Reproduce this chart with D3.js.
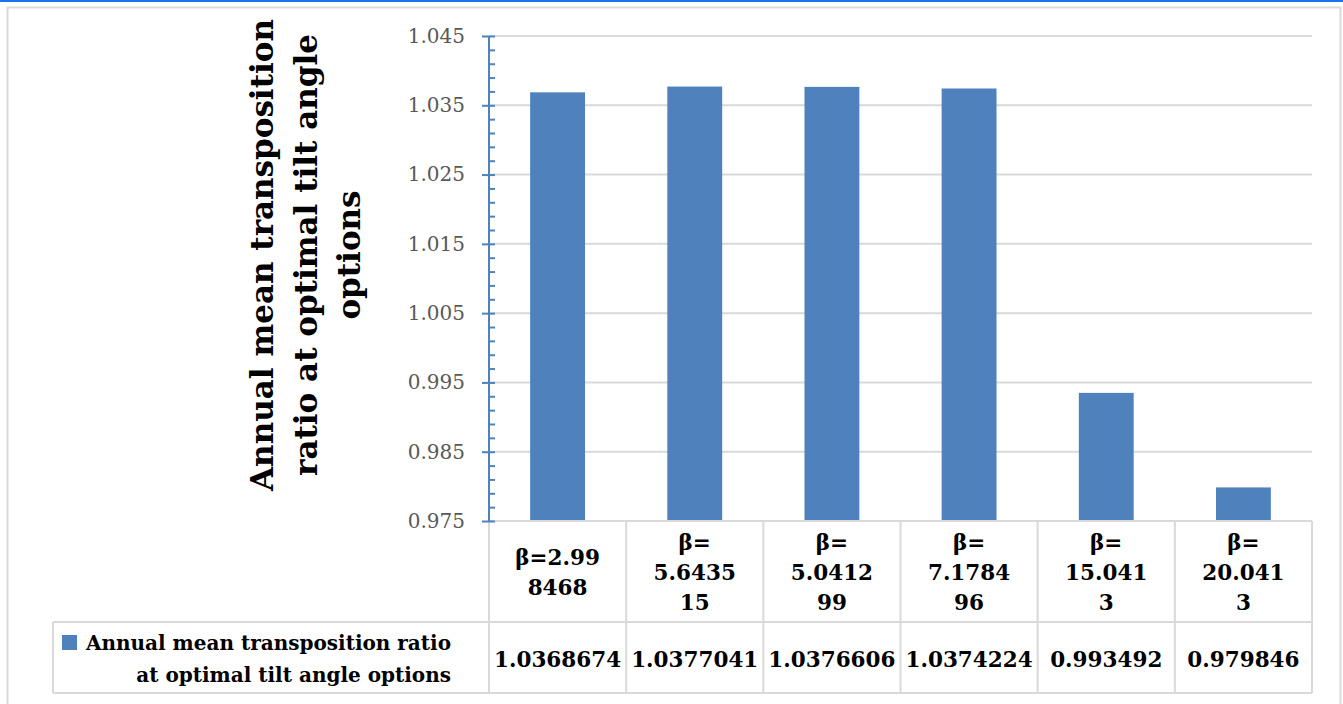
<!DOCTYPE html>
<html>
<head>
<meta charset="utf-8">
<script src="https://cdn.jsdelivr.net/npm/d3@7"></script>
<style>
  html, body { margin: 0; padding: 0; background: #fff; }
  svg { display: block; }
</style>
</head>
<body>
<svg id="chart" width="1343" height="704"></svg>
<script>
// Tilt-angle options (category labels) and the annual mean transposition ratio for each
const categories = ["β=2.998468", "β= 5.643515", "β= 5.041299", "β= 7.178496", "β= 15.0413", "β= 20.0413"];
const ratios = [1.0368674, 1.0377041, 1.0376606, 1.0374224, 0.993492, 0.979846];
const ratioLabels = ["1.0368674", "1.0377041", "1.0376606", "1.0374224", "0.993492", "0.979846"];
const yTickValues = [0.975, 0.985, 0.995, 1.005, 1.015, 1.025, 1.035, 1.045];
const seriesName = "Annual mean transposition ratio at optimal tilt angle options";
const yTitleLines = ["Annual mean transposition", "ratio at optimal tilt angle", "options"];

const BAR = "#4f81bd";
const GRID = "#d9d9d9";
const SERIF = "'DejaVu Serif', 'Liberation Serif', serif";

const svg = d3.select("#chart");

// window chrome + chart frame
svg.append("rect").attr("x", 0).attr("y", 0).attr("width", 1343).attr("height", 2).attr("fill", "#1a73e8");
svg.append("rect").attr("x", 7.5).attr("y", 7.5).attr("width", 1333).attr("height", 710)
  .attr("fill", "#fff").attr("stroke", GRID).attr("stroke-width", 2);

const plot = { left: 489, right: 1312, top: 36, bottom: 521 };
const tableRow1Bottom = 622, tableBottom = 693, legendLeft = 53;

const x = d3.scaleBand().domain(categories)
  .range([plot.left, plot.right]).paddingInner(0.6).paddingOuter(0.3);
const y = d3.scaleLinear().domain([0.975, 1.045]).range([plot.bottom, plot.top]);
const step = x.step();

// horizontal gridlines
svg.append("g").selectAll("line").data(yTickValues.slice(1)).join("line")
  .attr("x1", plot.left).attr("x2", plot.right)
  .attr("y1", d => y(d)).attr("y2", d => y(d))
  .attr("stroke", GRID).attr("stroke-width", 2);

// bars
svg.append("g").selectAll("rect").data(categories).join("rect")
  .attr("x", d => x(d)).attr("width", x.bandwidth())
  .attr("y", (d, i) => y(ratios[i]))
  .attr("height", (d, i) => plot.bottom - y(ratios[i]))
  .attr("fill", BAR);

// data table grid
const tbl = svg.append("g").attr("stroke", GRID).attr("stroke-width", 2);
tbl.append("line").attr("x1", plot.left).attr("x2", plot.right).attr("y1", plot.bottom).attr("y2", plot.bottom);
tbl.append("line").attr("x1", legendLeft).attr("x2", plot.right).attr("y1", tableRow1Bottom).attr("y2", tableRow1Bottom);
tbl.append("line").attr("x1", legendLeft).attr("x2", plot.right).attr("y1", tableBottom).attr("y2", tableBottom);
tbl.append("line").attr("x1", legendLeft).attr("x2", legendLeft).attr("y1", tableRow1Bottom).attr("y2", tableBottom);
tbl.selectAll("line.col").data(d3.range(categories.length + 1)).join("line").attr("class", "col")
  .attr("x1", i => plot.left + i * step).attr("x2", i => plot.left + i * step)
  .attr("y1", plot.bottom).attr("y2", tableBottom);

// y axis: major ticks crossing the line, minor ticks inside
const yAxis = svg.append("g").attr("transform", `translate(${plot.left},0)`)
  .call(d3.axisLeft(y).tickValues(yTickValues).tickSize(7).tickPadding(17).tickFormat(d3.format(".3f")));
svg.append("g").attr("transform", `translate(${plot.left},0)`)
  .call(d3.axisRight(y).tickValues(d3.range(0, 36).map(i => 0.975 + i * 0.002)).tickSize(6).tickFormat(""))
  .call(g => g.select(".domain").remove());
svg.selectAll(".tick line").attr("stroke", BAR).attr("stroke-width", 2);
yAxis.select(".domain").attr("stroke", BAR).attr("stroke-width", 2).attr("d", `M0,${plot.top}V${plot.bottom}`);
yAxis.selectAll(".tick text").attr("fill", "#595959")
  .style("font-family", SERIF).style("font-size", "20px");

// y axis title
const yTitle = svg.append("text")
  .attr("transform", "translate(0,255) rotate(-90)")
  .attr("text-anchor", "middle")
  .style("font-family", SERIF).style("font-weight", "bold").style("font-size", "31px")
  .attr("fill", "#000");
yTitle.selectAll("tspan").data(yTitleLines).join("tspan")
  .attr("x", 0).attr("y", (d, i) => 273 + i * 43.5).text(d => d);

// category labels: words split on spaces, long words wrapped every 6 characters
function wrapLabel(s) {
  const out = [];
  s.split(" ").forEach(w => { for (let k = 0; k < w.length; k += 6) out.push(w.slice(k, k + 6)); });
  return out;
}
const catG = svg.append("g").style("font-family", SERIF).style("font-weight", "bold").style("font-size", "21.5px");
categories.forEach(c => {
  const lines = wrapLabel(c);
  const lh = 30, cy = (plot.bottom + tableRow1Bottom) / 2;
  const t = catG.append("text").attr("text-anchor", "middle").attr("fill", "#000");
  lines.forEach((ln, j) => {
    t.append("tspan").attr("x", x(c) + x.bandwidth() / 2)
      .attr("y", cy + (j - (lines.length - 1) / 2) * lh + 8).text(ln);
  });
});

// value row
svg.append("g").style("font-family", SERIF).style("font-weight", "bold").style("font-size", "21.5px")
  .selectAll("text").data(categories).join("text")
  .attr("text-anchor", "middle").attr("fill", "#000")
  .attr("x", d => x(d) + x.bandwidth() / 2).attr("y", 667)
  .text((d, i) => ratioLabels[i]);

// legend key and series name
svg.append("rect").attr("x", 62).attr("y", 635).attr("width", 15).attr("height", 15).attr("fill", BAR);
const nameWords = seriesName.split(" ");
const legText = svg.append("text").attr("text-anchor", "end")
  .style("font-family", SERIF).style("font-weight", "bold").style("font-size", "20px").attr("fill", "#000");
[nameWords.slice(0, 4).join(" "), nameWords.slice(4).join(" ")].forEach((ln, j) => {
  legText.append("tspan").attr("x", 451).attr("y", 650 + j * 32).text(ln);
});
</script>
</body>
</html>
